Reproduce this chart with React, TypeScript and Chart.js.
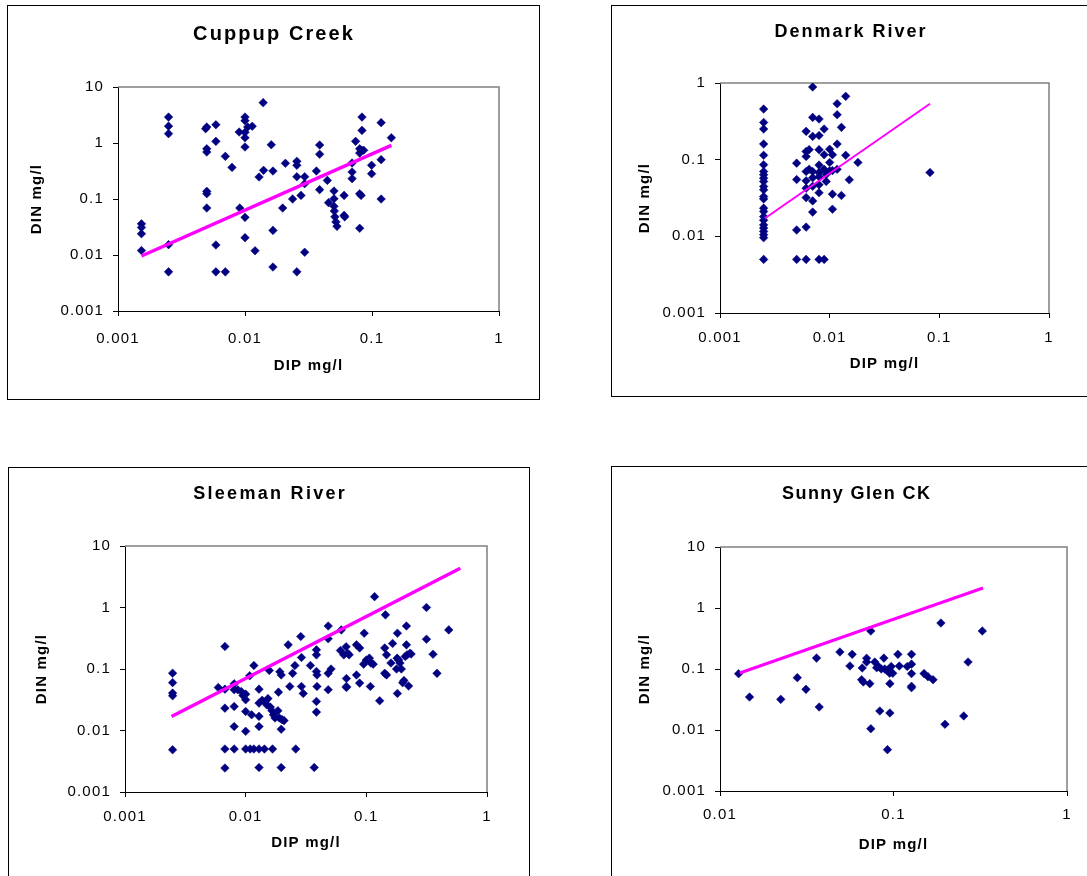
import React, { useEffect, useRef } from 'react';
import { Chart, registerables } from 'chart.js';

Chart.register(...registerables);

type Pair = [number, number];

// Each sample is [DIP mg/l, DIN mg/l]

const cuppupSamples: Pair[] = [
  [0.00153, 0.036], [0.00153, 0.031], [0.00153, 0.024], [0.00153, 0.012],
  [0.0025, 2.9], [0.0025, 2.0], [0.0025, 1.47], [0.0025, 0.0153], [0.0025, 0.005],
  [0.005, 1.93], [0.0049, 1.8], [0.005, 0.79], [0.005, 0.69], [0.005, 0.137], [0.005, 0.124], [0.005, 0.069],
  [0.0059, 2.12], [0.0059, 1.07], [0.0059, 0.0151], [0.0059, 0.005],
  [0.007, 0.578], [0.007, 0.005], [0.0079, 0.367],
  [0.01, 2.9], [0.01, 2.5], [0.0105, 1.93], [0.01, 1.55], [0.01, 1.24], [0.01, 0.85], [0.01, 0.047], [0.01, 0.0204],
  [0.009, 1.57], [0.0114, 1.99], [0.0091, 0.069], [0.012, 0.0119],
  [0.0139, 5.25], [0.0161, 0.93], [0.0166, 0.316], [0.0166, 0.0275], [0.0166, 0.0061],
  [0.0129, 0.247], [0.014, 0.325],
  [0.0198, 0.069], [0.0208, 0.434], [0.0237, 0.1],
  [0.0256, 0.47], [0.0256, 0.4], [0.0256, 0.25], [0.0256, 0.005],
  [0.0276, 0.116], [0.0295, 0.25], [0.0295, 0.188], [0.0295, 0.0112],
  [0.0365, 0.316], [0.0387, 0.92], [0.0387, 0.63], [0.0387, 0.147], [0.0445, 0.215], [0.0455, 0.086],
  [0.0502, 0.139], [0.0502, 0.101], [0.0502, 0.074], [0.0505, 0.061], [0.051, 0.048], [0.052, 0.039], [0.053, 0.0325],
  [0.0603, 0.116], [0.0603, 0.051], [0.061, 0.048],
  [0.0697, 0.44], [0.0697, 0.303], [0.0697, 0.231],
  [0.0743, 1.07], [0.08, 0.124], [0.082, 0.116], [0.08, 0.03],
  [0.0834, 2.9], [0.0834, 1.68], [0.08, 0.79], [0.083, 0.74], [0.086, 0.74], [0.08, 0.66],
  [0.0993, 0.4], [0.0993, 0.283],
  [0.118, 2.31], [0.118, 0.504], [0.118, 0.1], [0.142, 1.24],
];
const cuppupTrend: Pair[] = [[0.00153, 0.0096], [0.142, 0.908]];

const denmarkSamples: Pair[] = [
  [0.0025, 0.457], [0.0025, 0.306], [0.0025, 0.251], [0.0025, 0.16], [0.0025, 0.114], [0.0025, 0.086],
  [0.0025, 0.07], [0.0025, 0.0635], [0.0025, 0.0574], [0.0025, 0.052], [0.0025, 0.0447], [0.0025, 0.0404],
  [0.0025, 0.033], [0.0025, 0.0308], [0.0025, 0.0233], [0.0025, 0.0211], [0.0025, 0.0181], [0.0025, 0.0162],
  [0.0025, 0.0141], [0.0025, 0.0128], [0.0025, 0.0116], [0.0025, 0.0105], [0.0025, 0.0096], [0.0025, 0.005],
  [0.005, 0.09], [0.005, 0.055], [0.005, 0.0121], [0.005, 0.005],
  [0.0061, 0.234], [0.0061, 0.128], [0.0061, 0.11], [0.0061, 0.07], [0.0061, 0.053], [0.0061, 0.0425],
  [0.0061, 0.032], [0.0061, 0.0132], [0.0061, 0.005],
  [0.0065, 0.135], [0.0065, 0.075],
  [0.007, 0.887], [0.007, 0.356], [0.007, 0.201], [0.007, 0.07], [0.007, 0.058], [0.007, 0.045], [0.007, 0.029], [0.007, 0.0207],
  [0.008, 0.339], [0.008, 0.207], [0.008, 0.135], [0.008, 0.085], [0.008, 0.068], [0.008, 0.06], [0.008, 0.047], [0.008, 0.037], [0.008, 0.005],
  [0.0089, 0.251], [0.0089, 0.116], [0.0089, 0.075], [0.0089, 0.005],
  [0.0093, 0.052], [0.0093, 0.064],
  [0.01, 0.137], [0.01, 0.092], [0.01, 0.0716],
  [0.0106, 0.116], [0.0106, 0.072], [0.0106, 0.0355], [0.0106, 0.0226],
  [0.0117, 0.537], [0.0117, 0.386], [0.0117, 0.16], [0.0117, 0.075],
  [0.0128, 0.264], [0.0128, 0.0341],
  [0.014, 0.67], [0.014, 0.114],
  [0.0151, 0.0547], [0.0181, 0.092], [0.0822, 0.068],
];
const denmarkTrend: Pair[] = [[0.00257, 0.0172], [0.0822, 0.537]];

const sleemanSamples: Pair[] = [
  [0.00248, 0.0855], [0.00248, 0.06], [0.00248, 0.0406], [0.00248, 0.0367], [0.00248, 0.00486],
  [0.00593, 0.05],
  [0.00673, 0.232], [0.00673, 0.047], [0.00673, 0.0231], [0.00673, 0.005], [0.00673, 0.00245],
  [0.00803, 0.0574], [0.00803, 0.046], [0.00803, 0.0246], [0.00803, 0.0116], [0.00803, 0.005],
  [0.0086, 0.046], [0.0092, 0.043], [0.0095, 0.037], [0.0108, 0.0775],
  [0.01, 0.039], [0.01, 0.0316], [0.01, 0.0204], [0.01, 0.0097], [0.01, 0.005],
  [0.0117, 0.114], [0.0112, 0.018], [0.0109, 0.005], [0.0117, 0.005],
  [0.0129, 0.047], [0.0129, 0.0279], [0.0129, 0.017], [0.0129, 0.0116], [0.0129, 0.005], [0.0129, 0.0025],
  [0.0143, 0.005], [0.0167, 0.005],
  [0.0137, 0.031], [0.0145, 0.029], [0.015, 0.026], [0.0153, 0.033], [0.016, 0.024], [0.0165, 0.021],
  [0.017, 0.018], [0.0175, 0.016], [0.0185, 0.021], [0.019, 0.016], [0.02, 0.015], [0.0208, 0.0145],
  [0.0157, 0.0946], [0.0192, 0.09], [0.0197, 0.08], [0.0187, 0.042], [0.0197, 0.0105], [0.0197, 0.0025],
  [0.0225, 0.247], [0.0232, 0.052], [0.0245, 0.085], [0.0256, 0.114], [0.026, 0.005],
  [0.0286, 0.337], [0.029, 0.154], [0.029, 0.052], [0.03, 0.04],
  [0.0344, 0.114], [0.0386, 0.205], [0.0386, 0.17], [0.0386, 0.091], [0.039, 0.08], [0.039, 0.052],
  [0.0386, 0.0297], [0.0386, 0.0199], [0.037, 0.0025],
  [0.0483, 0.5], [0.0483, 0.31], [0.0483, 0.085], [0.051, 0.1], [0.0483, 0.046],
  [0.062, 0.432], [0.061, 0.2], [0.065, 0.17], [0.068, 0.23], [0.07, 0.18], [0.072, 0.17],
  [0.0684, 0.07], [0.0684, 0.052], [0.0684, 0.05],
  [0.0829, 0.247], [0.088, 0.22], [0.0829, 0.08], [0.088, 0.059],
  [0.096, 0.382], [0.095, 0.12], [0.1, 0.14], [0.106, 0.15], [0.109, 0.125], [0.114, 0.12], [0.108, 0.052],
  [0.117, 1.5], [0.129, 0.0304], [0.144, 0.759], [0.142, 0.22], [0.147, 0.17], [0.142, 0.085], [0.147, 0.08],
  [0.165, 0.26], [0.16, 0.125], [0.18, 0.15], [0.185, 0.14], [0.19, 0.125], [0.195, 0.1], [0.178, 0.1],
  [0.181, 0.382], [0.181, 0.04],
  [0.215, 0.5], [0.215, 0.247], [0.2, 0.06], [0.205, 0.065], [0.224, 0.053], [0.21, 0.16], [0.218, 0.17],
  [0.23, 0.18], [0.235, 0.175],
  [0.315, 1.0], [0.315, 0.305], [0.357, 0.174], [0.385, 0.085], [0.482, 0.432],
];
const sleemanTrend: Pair[] = [[0.00243, 0.0169], [0.601, 4.34]];

const sunnyGlenSamples: Pair[] = [
  [0.0128, 0.0838], [0.0148, 0.0347], [0.0224, 0.0318], [0.0279, 0.0721], [0.0313, 0.0464],
  [0.036, 0.151], [0.0373, 0.0238],
  [0.0491, 0.19], [0.0561, 0.112], [0.0578, 0.174], [0.0655, 0.0668], [0.067, 0.0612], [0.066, 0.104],
  [0.07, 0.15], [0.07, 0.13], [0.073, 0.0575], [0.074, 0.42], [0.074, 0.0105],
  [0.078, 0.13], [0.08, 0.105], [0.082, 0.11], [0.085, 0.1], [0.0834, 0.0205], [0.088, 0.151],
  [0.089, 0.1], [0.092, 0.095], [0.095, 0.085], [0.097, 0.11], [0.099, 0.085],
  [0.0923, 0.00476], [0.0953, 0.019], [0.0953, 0.0575],
  [0.106, 0.174], [0.108, 0.112], [0.12, 0.11], [0.127, 0.174], [0.127, 0.12], [0.127, 0.084],
  [0.127, 0.052], [0.127, 0.0495],
  [0.15, 0.084], [0.158, 0.0746], [0.169, 0.0668], [0.1876, 0.568], [0.198, 0.0124],
  [0.254, 0.017], [0.269, 0.13], [0.325, 0.42],
];
const sunnyGlenTrend: Pair[] = [[0.013, 0.086], [0.328, 2.13]];

// Decade tick values
const dipTicksFrom0001 = [0.001, 0.01, 0.1, 1];
const dipTicksFrom001 = [0.01, 0.1, 1];
const dinTicksTo10 = [0.001, 0.01, 0.1, 1, 10];
const dinTicksTo1 = [0.001, 0.01, 0.1, 1];

const FONT = "'Liberation Sans', Arial, Helvetica, sans-serif";
const NAVY = '#000080';
const MAGENTA = '#ff00ff';
const BORDER = 1;
const X_AXIS_H = 80;
const AXIS_FONT = 15;

interface Frame {
  box: { left: number; top: number; width: number; height: number };
  area: { left: number; right: number; top: number; bottom: number };
  titleX: number;
  titleY: number;
  titleSize: number;
  titleSpacing: number;
  yTitleX: number;
  xTitleY: number;
  xTickPad: number;
  trendWidth: number;
}

// Slightly spread letters for the axis text, as in the spreadsheet rendering
const spacingPlugin = {
  id: 'spacing',
  beforeDraw(chart: any) {
    chart.ctx.letterSpacing = '1.2px';
  },
};

// Grey outline along the top and right of the plot area
const plotFramePlugin = {
  id: 'plotFrame',
  beforeDatasetsDraw(chart: any) {
    const { ctx, chartArea: a } = chart;
    ctx.save();
    ctx.strokeStyle = '#808080';
    ctx.lineWidth = 1.5;
    ctx.beginPath();
    ctx.moveTo(a.left, a.top);
    ctx.lineTo(a.right, a.top);
    ctx.lineTo(a.right, a.bottom);
    ctx.stroke();
    ctx.restore();
  },
};

// Bold, letter-spaced chart heading centred on the panel
const panelTitlePlugin = {
  id: 'panelTitle',
  afterDraw(chart: any, _args: any, opts: any) {
    const ctx = chart.ctx;
    ctx.save();
    ctx.letterSpacing = `${opts.spacing}px`;
    ctx.font = `bold ${opts.size}px ${FONT}`;
    ctx.fillStyle = '#000';
    ctx.textAlign = 'center';
    ctx.textBaseline = 'middle';
    ctx.fillText(opts.text, opts.x + opts.spacing / 2, opts.y);
    ctx.restore();
  },
};

function Panel(props: {
  title: string;
  samples: Pair[];
  trend: Pair[];
  xTicks: number[];
  yTicks: number[];
  frame: Frame;
}) {
  const { title, samples, trend, xTicks, yTicks, frame } = props;
  const ref = useRef<HTMLCanvasElement>(null);
  const cx = frame.box.left + BORDER;
  const cy = frame.box.top + BORDER;
  const cw = frame.box.width - 2 * BORDER;
  const ch = frame.box.height - 2 * BORDER;

  useEffect(() => {
    if (!ref.current) return;
    const axisLH = AXIS_FONT * 1.2;
    const chart = new Chart(ref.current, {
      type: 'scatter',
      data: {
        datasets: [
          {
            data: trend.map(([x, y]) => ({ x, y })),
            showLine: true,
            borderColor: MAGENTA,
            borderWidth: frame.trendWidth,
            pointRadius: 0,
            order: 0,
          },
          {
            data: samples.map(([x, y]) => ({ x, y })),
            pointStyle: 'rectRot',
            pointRadius: 4.3,
            backgroundColor: NAVY,
            borderColor: NAVY,
            borderWidth: 0.5,
            order: 1,
          },
        ],
      },
      plugins: [spacingPlugin, plotFramePlugin, panelTitlePlugin],
      options: {
        animation: false,
        responsive: false,
        maintainAspectRatio: false,
        events: [],
        layout: {
          padding: {
            left: 0,
            top: frame.area.top - cy,
            right: cx + cw - frame.area.right,
            bottom: cy + ch - frame.area.bottom - X_AXIS_H,
          },
        },
        plugins: {
          legend: { display: false },
          tooltip: { enabled: false },
          title: { display: false },
          panelTitle: {
            text: title,
            x: frame.titleX - cx,
            y: frame.titleY - cy,
            size: frame.titleSize,
            spacing: frame.titleSpacing,
          },
        },
        scales: {
          x: {
            type: 'logarithmic',
            position: 'bottom',
            min: xTicks[0],
            max: xTicks[xTicks.length - 1],
            afterBuildTicks: (s: any) => {
              s.ticks = xTicks.map((v) => ({ value: v }));
            },
            afterFit: (s: any) => {
              s.height = X_AXIS_H;
            },
            ticks: {
              callback: (v: any) => String(v),
              color: '#000',
              font: { family: FONT, size: AXIS_FONT },
              padding: frame.xTickPad,
              maxRotation: 0,
              autoSkip: false,
            },
            grid: { display: true, drawOnChartArea: false, drawTicks: true, tickLength: 5, color: '#000' },
            border: { display: true, color: '#000', width: 1 },
            title: {
              display: true,
              text: 'DIP mg/l',
              color: '#000',
              font: { family: FONT, size: AXIS_FONT, weight: 'bold', lineHeight: 1.2 },
              padding: { top: 0, bottom: frame.area.bottom + X_AXIS_H - frame.xTitleY - axisLH / 2 },
            },
          },
          y: {
            type: 'logarithmic',
            position: 'left',
            min: yTicks[0],
            max: yTicks[yTicks.length - 1],
            afterBuildTicks: (s: any) => {
              s.ticks = yTicks.map((v) => ({ value: v }));
            },
            afterFit: (s: any) => {
              s.width = frame.area.left - cx;
            },
            ticks: {
              callback: (v: any) => String(v),
              color: '#000',
              font: { family: FONT, size: AXIS_FONT },
              padding: 9,
              autoSkip: false,
            },
            grid: { display: true, drawOnChartArea: false, drawTicks: true, tickLength: 5, color: '#000' },
            border: { display: true, color: '#000', width: 1 },
            title: {
              display: true,
              text: 'DIN mg/l',
              color: '#000',
              font: { family: FONT, size: AXIS_FONT, weight: 'bold', lineHeight: 1.2 },
              padding: { top: frame.yTitleX - cx - axisLH / 2, bottom: 0 },
            },
          },
        },
      } as any,
    });
    return () => chart.destroy();
  }, []);

  return (
    <div
      style={{
        position: 'absolute',
        left: frame.box.left,
        top: frame.box.top,
        width: frame.box.width,
        height: frame.box.height,
        border: `${BORDER}px solid #000`,
        boxSizing: 'border-box',
        background: '#fff',
      }}
    >
      <canvas ref={ref} width={cw} height={ch} style={{ display: 'block' }} />
    </div>
  );
}

const cuppupFrame: Frame = {
  box: { left: 7, top: 5, width: 533, height: 395 },
  area: { left: 118, right: 499, top: 87, bottom: 311 },
  titleX: 273, titleY: 34, titleSize: 20, titleSpacing: 2.1,
  yTitleX: 37, xTitleY: 366, xTickPad: 14, trendWidth: 3.5,
};
const denmarkFrame: Frame = {
  box: { left: 611, top: 5, width: 486, height: 392 },
  area: { left: 720, right: 1049, top: 83, bottom: 313 },
  titleX: 850, titleY: 32, titleSize: 18, titleSpacing: 2.0,
  yTitleX: 645, xTitleY: 364, xTickPad: 11, trendWidth: 2,
};
const sleemanFrame: Frame = {
  box: { left: 8, top: 467, width: 522, height: 420 },
  area: { left: 125, right: 487, top: 546, bottom: 792 },
  titleX: 269, titleY: 494, titleSize: 18, titleSpacing: 2.3,
  yTitleX: 42, xTitleY: 843, xTickPad: 11, trendWidth: 3.5,
};
const sunnyGlenFrame: Frame = {
  box: { left: 611, top: 466, width: 486, height: 420 },
  area: { left: 720, right: 1067, top: 547, bottom: 791 },
  titleX: 856, titleY: 494, titleSize: 18, titleSpacing: 1.4,
  yTitleX: 645, xTitleY: 845, xTickPad: 10, trendWidth: 3,
};

export default function App() {
  return (
    <div
      style={{
        position: 'fixed',
        left: 0,
        top: 0,
        width: 1087,
        height: 876,
        overflow: 'hidden',
        background: '#fff',
      }}
    >
      <Panel title="Cuppup Creek" samples={cuppupSamples} trend={cuppupTrend}
        xTicks={dipTicksFrom0001} yTicks={dinTicksTo10} frame={cuppupFrame} />
      <Panel title="Denmark River" samples={denmarkSamples} trend={denmarkTrend}
        xTicks={dipTicksFrom0001} yTicks={dinTicksTo1} frame={denmarkFrame} />
      <Panel title="Sleeman River" samples={sleemanSamples} trend={sleemanTrend}
        xTicks={dipTicksFrom0001} yTicks={dinTicksTo10} frame={sleemanFrame} />
      <Panel title="Sunny Glen CK" samples={sunnyGlenSamples} trend={sunnyGlenTrend}
        xTicks={dipTicksFrom001} yTicks={dinTicksTo10} frame={sunnyGlenFrame} />
    </div>
  );
}
